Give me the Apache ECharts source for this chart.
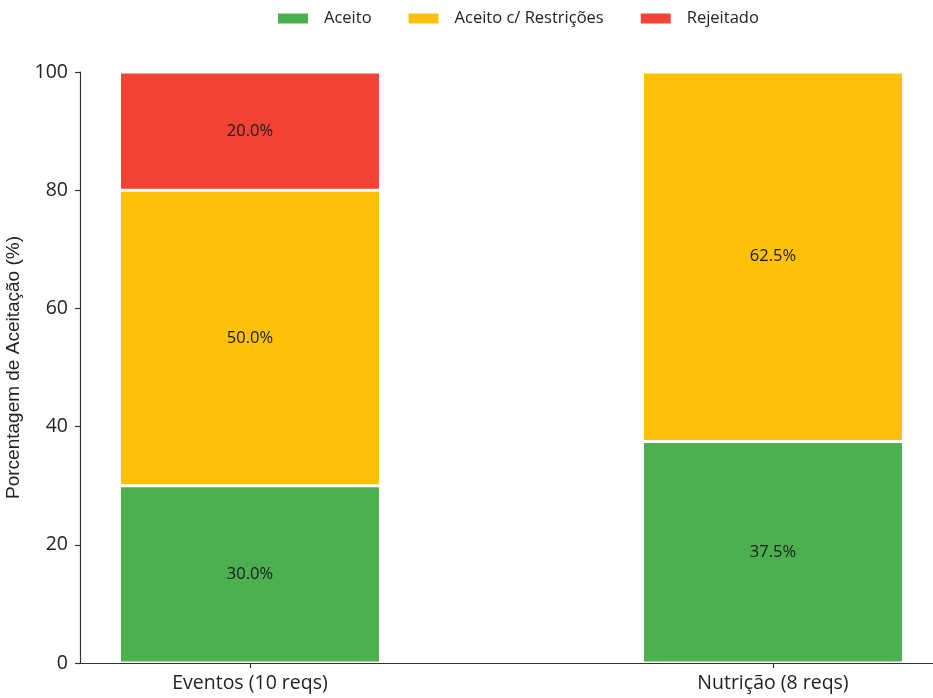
<!DOCTYPE html>
<html>
<head>
<meta charset="utf-8">
<script src="https://cdn.jsdelivr.net/npm/echarts@6/dist/echarts.min.js"></script>
<style>
  html, body { margin: 0; padding: 0; background: #fff; }
  #chart { width: 933px; height: 698px; }
</style>
</head>
<body>
<div id="chart"></div>
<script>
// Acceptance breakdown per module (percent of requirements)
const categories = ['Eventos (10 reqs)', 'Nutrição (8 reqs)'];
const seriesNames = ['Aceito', 'Aceito c/ Restrições', 'Rejeitado'];
const aceito = [30.0, 37.5];
const aceitoRestricoes = [50.0, 62.5];
const rejeitado = [20.0, 0];
const yTicks = [0, 20, 40, 60, 80, 100];
const colors = ['#4CAF50', '#FFC107', '#F44336'];

const values = [aceito, aceitoRestricoes, rejeitado];
const font = '"Open Sans", Roboto, sans-serif';
const axisColor = '#333333';

const chart = echarts.init(document.getElementById('chart'), null, { renderer: 'canvas' });

// Each point is [percent, position]; the percent comes first so it is the stacked dimension.
const series = seriesNames.map((name, s) => ({
  name: name,
  type: 'bar',
  stack: 'total',
  barWidth: 261,
  encode: { x: 1, y: 0 },
  data: values[s].map((v, i) => [v, i]),
  itemStyle: { color: colors[s], borderColor: '#ffffff', borderWidth: 1.5 },
  label: {
    show: true,
    position: 'inside',
    fontFamily: font,
    fontSize: 16.5,
    color: '#1a1a1a',
    formatter: p => (p.value[0] > 0 ? p.value[0].toFixed(1) + '%' : '')
  },
  emphasis: { disabled: true }
}));

chart.setOption({
  animation: false,
  backgroundColor: '#ffffff',
  color: colors,
  legend: {
    top: 5,
    left: 271,
    itemWidth: 32,
    itemHeight: 12,
    itemGap: 35,
    icon: 'rect',
    textStyle: { fontFamily: font, fontSize: 16.5, color: '#222', padding: [0, 0, 0, 10] },
    data: seriesNames
  },
  grid: { left: 80, top: 72, right: 0, height: 591, containLabel: false, outerBoundsMode: 'none' },
  xAxis: {
    type: 'value',
    min: -0.325,
    max: 1.306,
    splitLine: { show: false },
    axisLine: { show: true, onZero: false, lineStyle: { color: axisColor, width: 1.2 } },
    axisTick: { show: true, customValues: [0, 1], length: 5, lineStyle: { color: axisColor, width: 1.2 } },
    axisLabel: {
      customValues: [0, 1],
      formatter: v => categories[Math.round(v)],
      fontFamily: font,
      fontSize: 19.5,
      color: '#222',
      margin: 10
    }
  },
  yAxis: {
    type: 'value',
    min: 0,
    max: 100,
    interval: 20,
    name: 'Porcentagem de Aceitação (%)',
    nameLocation: 'middle',
    nameGap: 53,
    nameRotate: 90,
    nameTextStyle: { fontFamily: '"Liberation Sans", Arial, sans-serif', fontSize: 19, color: '#222' },
    splitLine: { show: false },
    axisLine: { show: true, onZero: false, lineStyle: { color: axisColor, width: 1.2 } },
    axisTick: { show: true, length: 5, lineStyle: { color: axisColor, width: 1.2 } },
    axisLabel: {
      fontFamily: font,
      fontSize: 19.5,
      color: '#222',
      margin: 12,
      formatter: v => (yTicks.includes(v) ? String(v) : '')
    }
  },
  series: series
});
</script>
</body>
</html>
